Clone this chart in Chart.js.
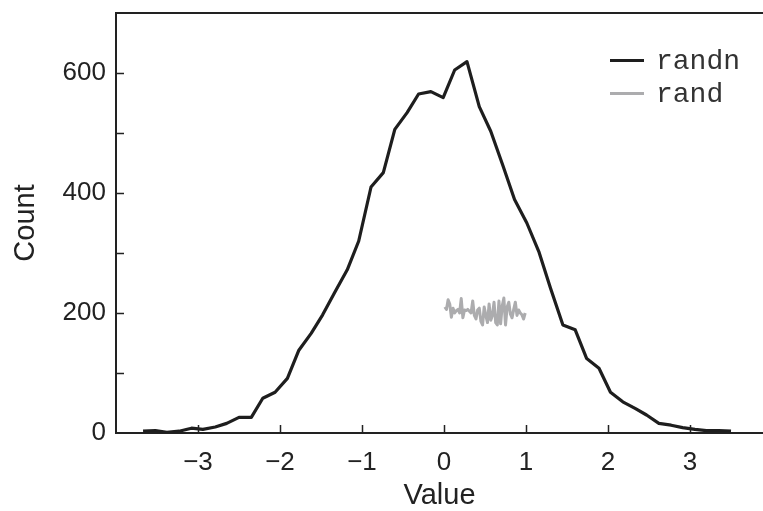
<!DOCTYPE html>
<html>
<head>
<meta charset="utf-8">
<title>randn vs rand</title>
<script src="https://cdn.jsdelivr.net/npm/chart.js@4"></script>
<style>
  html, body { margin: 0; padding: 0; background: #fff; }
  #wrap { width: 763px; height: 511px; }
</style>
</head>
<body>
<div id="wrap"><canvas id="c" width="763" height="511"></canvas></div>
<script>
// histogram bin centres and counts
const randnX = [-3.67, -3.52, -3.38, -3.23, -3.08, -2.94, -2.79, -2.65, -2.50, -2.35,
                -2.21, -2.06, -1.91, -1.77, -1.62, -1.48, -1.33, -1.18, -1.04, -0.89,
                -0.74, -0.60, -0.45, -0.31, -0.16, -0.01, 0.13, 0.28, 0.43, 0.57,
                0.72, 0.86, 1.01, 1.16, 1.30, 1.45, 1.60, 1.74, 1.89, 2.03,
                2.18, 2.33, 2.47, 2.62, 2.77, 2.91, 3.06, 3.20, 3.35, 3.50];
const randnCount = [3, 4, 1, 3, 8, 6, 10, 16, 26, 26,
                    58, 68, 91, 138, 166, 197, 235, 272, 320, 410,
                    434, 506, 534, 565, 569, 559, 605, 619, 544, 503,
                    445, 389, 350, 301, 241, 180, 172, 124, 108, 68,
                    52, 41, 30, 16, 13, 9, 6, 4, 4, 3];

const randX = [0.01, 0.03, 0.05, 0.07, 0.09, 0.11, 0.13, 0.15, 0.17, 0.19,
               0.21, 0.23, 0.25, 0.27, 0.29, 0.31, 0.33, 0.35, 0.37, 0.39,
               0.41, 0.43, 0.45, 0.47, 0.49, 0.51, 0.53, 0.55, 0.57, 0.59,
               0.61, 0.63, 0.65, 0.67, 0.69, 0.71, 0.73, 0.75, 0.77, 0.79,
               0.81, 0.83, 0.85, 0.87, 0.89, 0.91, 0.93, 0.95, 0.97, 0.99];
const randCount = [210, 206, 222, 215, 193, 208, 200, 204, 206, 200,
                   224, 192, 205, 204, 206, 203, 200, 220, 196, 190,
                   205, 208, 186, 180, 210, 196, 184, 215, 188, 196,
                   218, 184, 180, 220, 182, 212, 225, 180, 210, 218,
                   198, 192, 206, 218, 196, 205, 200, 197, 190, 200];

const xTicks = [-3, -2, -1, 0, 1, 2, 3];
const yTicks = [0, 100, 200, 300, 400, 500, 600];
const yLabelled = [0, 200, 400, 600];

const INK = '#222';
const SANS = "'Liberation Sans', Arial, sans-serif";
const MONO = "'Liberation Mono', 'Courier New', monospace";

const toPts = (xs, ys) => xs.map((x, i) => ({ x, y: ys[i] }));

// inward tick marks, top frame line and the in-plot legend
const framePlugin = {
  id: 'frame',
  afterDatasetsDraw(chart) {
    const { ctx, chartArea: a, scales: { x, y } } = chart;
    ctx.save();
    ctx.strokeStyle = INK;
    ctx.lineWidth = 1.5;
    ctx.beginPath();
    xTicks.forEach(v => {
      const px = Math.round(x.getPixelForValue(v)) + 0.5;
      ctx.moveTo(px, a.bottom); ctx.lineTo(px, a.bottom - 8);
    });
    yTicks.forEach(v => {
      if (v === 0) return;
      const py = Math.round(y.getPixelForValue(v)) + 0.5;
      ctx.moveTo(a.left, py); ctx.lineTo(a.left + 8, py);
    });
    ctx.stroke();
    ctx.lineWidth = 2;
    ctx.beginPath();
    ctx.moveTo(a.left - 1, a.top); ctx.lineTo(a.right, a.top);
    ctx.stroke();

    // legend
    const rows = [60.5, 93.5];
    ctx.font = '28px ' + MONO;
    ctx.textBaseline = 'middle';
    chart.data.datasets.forEach((ds, i) => {
      ctx.strokeStyle = ds.borderColor;
      ctx.lineWidth = ds.borderWidth;
      ctx.beginPath();
      ctx.moveTo(610, rows[i]); ctx.lineTo(644, rows[i]);
      ctx.stroke();
      ctx.fillStyle = '#333';
      ctx.fillText(ds.label, 656, rows[i] + 1);
    });
    ctx.restore();
  }
};

new Chart(document.getElementById('c').getContext('2d'), {
  type: 'line',
  data: {
    datasets: [
      { label: 'randn', data: toPts(randnX, randnCount), borderColor: '#1e1e1e', borderWidth: 3.2, borderJoinStyle: 'round', pointRadius: 0, tension: 0 },
      { label: 'rand',  data: toPts(randX, randCount),   borderColor: '#acacae', borderWidth: 3, borderJoinStyle: 'round', pointRadius: 0, tension: 0 },
    ],
  },
  options: {
    responsive: false, animation: false,
    layout: { padding: { top: 13, right: 0, left: 0, bottom: 0 } },
    plugins: { legend: { display: false }, tooltip: { enabled: false } },
    scales: {
      x: {
        type: 'linear', min: -4, max: 3.89,
        afterBuildTicks: s => { s.ticks = xTicks.map(v => ({ value: v })); },
        afterFit: s => { s.height = 78; s.paddingLeft = 0; s.paddingRight = 0; },
        grid: { display: false, drawTicks: false },
        border: { display: true, color: INK, width: 2 },
        ticks: {
          color: INK, padding: 14, font: { family: SANS, size: 26 },
          callback: v => (v < 0 ? '\u2212' + Math.abs(v) : String(v)),
        },
        title: { display: true, text: 'Value', color: INK, font: { family: SANS, size: 29 }, padding: { top: 0, bottom: -2 } },
      },
      y: {
        type: 'linear', min: 0, max: 700,
        afterBuildTicks: s => { s.ticks = yTicks.map(v => ({ value: v })); },
        afterFit: s => { s.width = 116; s.paddingTop = 0; s.paddingBottom = 0; },
        grid: { display: false, drawTicks: false },
        border: { display: true, color: INK, width: 2 },
        ticks: {
          color: INK, padding: 10, font: { family: SANS, size: 26 },
          callback: v => (yLabelled.includes(v) ? String(v) : ''),
        },
        title: { display: true, text: 'Count', color: INK, font: { family: SANS, size: 29 }, padding: { top: 9, bottom: 0 } },
      },
    },
  },
  plugins: [framePlugin],
});
</script>
</body>
</html>
